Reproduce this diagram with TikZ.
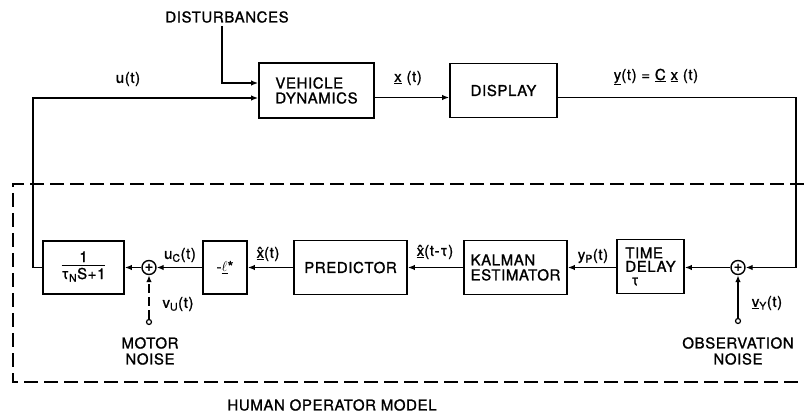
\documentclass[tikz,border=0pt]{standalone}
\usepackage{fontspec}
\setmainfont{TeX Gyre Heros}[LetterSpace=4, FakeBold=1.2]
\usetikzlibrary{arrows.meta,calc}
\newcommand\hatx{\underline{\^x}}
\tikzset{
  blk/.style={draw, line width=1.7pt, inner sep=2pt, font=\fontsize{15}{15}\selectfont},
  sumnode/.style={draw, circle, line width=1.4pt, minimum size=14pt, inner sep=0pt},
  term/.style={draw, circle, line width=1.2pt, minimum size=5pt, inner sep=0pt},
  sig/.style={line width=1.4pt, -{Latex[length=7pt,width=5.5pt]}},
  lbl/.style={font=\fontsize{15}{16}\selectfont, inner sep=1pt},
  frame/.style={line width=1.6pt, dash pattern=on 14pt off 6pt}
}
\begin{document}
\begin{tikzpicture}[x=1pt,y=-1pt]
\useasboundingbox (0,0) rectangle (804,414);

% plant and display
\node[blk, minimum width=115pt, minimum height=55pt, align=left] (veh) at (316.5,90.5) {VEHICLE\\DYNAMICS};
\node[blk, minimum width=107pt, minimum height=54pt] (disp) at (503.5,90.5) {DISPLAY};
\node[lbl] (dist) at (227,17) {DISTURBANCES};

% human operator blocks
\node[blk, minimum width=81pt, minimum height=53pt] (lag) at (83.5,267.5)
  {\begin{tabular}{@{}c@{}}1\\[-2pt]\hline\rule{0pt}{14pt}τ\textsubscript{N}S+1\end{tabular}};
\node[sumnode] (s1) at (149,267.5) {};
\node[lbl] at (149,267.5) {+};
\node[blk, minimum width=44pt, minimum height=53pt] (gain) at (225,267.5) {-\underline{$\ell$}*};
\node[blk, minimum width=113pt, minimum height=54pt] (pred) at (350.5,267.5) {PREDICTOR};
\node[blk, minimum width=103pt, minimum height=54pt, align=left] (kal) at (515.5,267.5) {KALMAN\\ESTIMATOR};
\node[blk, minimum width=67pt, minimum height=54pt, align=left,
      font=\fontsize{15}{13.5}\selectfont] (td) at (650.5,266.5)
  {TIME\\DELAY\\\hspace*{6pt}τ};
\node[sumnode] (s2) at (738,267.5) {};
\node[lbl] at (738,267.5) {+};

% noise inputs
\node[term] (mn) at (149,322) {};
\node[term] (on) at (738,321) {};
\node[lbl, align=center] at (150,351) {MOTOR\\NOISE};
\node[lbl, align=center] at (738,351) {OBSERVATION\\NOISE};

% signal labels
\node[lbl] at (128,79) {u(t)};
\node[lbl] at (408,78) {\underline{x} (t)};
\node[lbl] at (656,77) {\underline{y}(t) = \underline{C} \underline{x} (t)};
\node[lbl] at (180,255) {u\textsubscript{C}(t)};
\node[lbl] at (268,254) {\hatx(t)};
\node[lbl] at (435,252) {\hatx(t-τ)};
\node[lbl] at (593,256) {y\textsubscript{P}(t)};
\node[lbl] at (178,304) {v\textsubscript{U}(t)};
\node[lbl] at (767,303) {\underline{v}\textsubscript{Y}(t)};
\node[lbl] (hom) at (332,405) {HUMAN OPERATOR MODEL};

% human operator boundary
\draw[frame] (804,184) -- (13,184) -- (13,382) -- (804,382);

% connectors
\coordinate (dtop) at (222,26);
\coordinate (ucorner) at (33,267.5);
\coordinate (ycorner) at (796,97.5);
\draw[sig] (dtop) |- ($(veh.west)+(0,-7.5)$);
\draw[sig] (lag.west) -- (ucorner) |- ($(veh.west)+(0,7.5)$);
\draw[sig] ($(veh.east)+(0,7)$) -- ($(disp.west)+(0,7)$);
\draw[sig] ($(disp.east)+(0,7)$) -- (ycorner) |- (s2.east);
\draw[sig] (s2.west) -- (td.east |- s2.west);
\draw[sig] (td.west |- kal.east) -- (kal.east);
\draw[sig] (kal.west) -- (pred.east);
\draw[sig] (pred.west) -- (gain.east);
\draw[sig] (gain.west) -- (s1.east);
\draw[sig] (s1.west) -- (lag.east);
\draw[sig] (on.north) -- (s2.south);
\draw[sig, dash pattern=on 9pt off 4pt] (mn.north) -- (s1.south);
\end{tikzpicture}
\end{document}
